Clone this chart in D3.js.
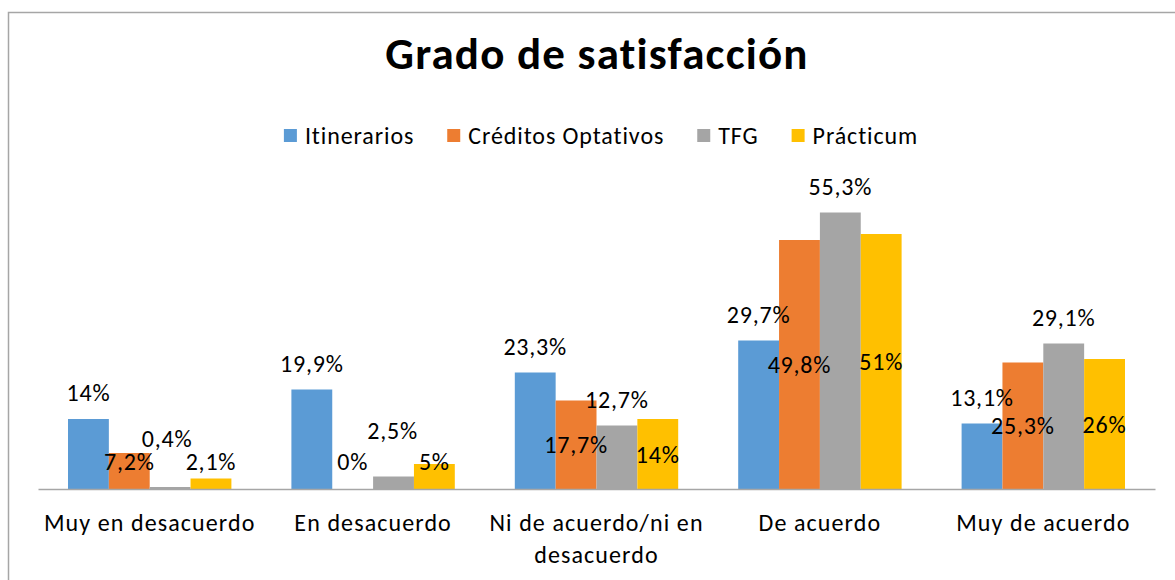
<!DOCTYPE html>
<html>
<head>
<meta charset="utf-8">
<script src="https://cdn.jsdelivr.net/npm/d3@7"></script>
<style>
  body { margin: 0; background: #fff; }
  text { font-family: Carlito, Calibri, Lato, sans-serif; fill: #000; }
</style>
</head>
<body>
<div id="root"></div>
<script>
// Data ////////////////////////////////////////////////////////////////
const title = 'Grado de satisfacción';
const categories = [
  'Muy en desacuerdo',
  'En desacuerdo',
  'Ni de acuerdo/ni en desacuerdo',
  'De acuerdo',
  'Muy de acuerdo',
];
const series = ['Itinerarios', 'Créditos Optativos', 'TFG', 'Prácticum'];
const itinerarios = [14, 19.9, 23.3, 29.7, 13.1];
const creditosOptativos = [7.2, 0, 17.7, 49.8, 25.3];
const tfg = [0.4, 2.5, 12.7, 55.3, 29.1];
const practicum = [2.1, 5, 14, 51, 26];
const values = [itinerarios, creditosOptativos, tfg, practicum];
const colors = ['#5B9BD5', '#ED7D31', '#A5A5A5', '#FFC000'];

// labels: blue/gray sit above the bar, orange/yellow in the middle
const labelMode = ['end', 'center', 'end', 'center'];
// labels that were dragged by hand in the original
const labelNudge = {
  'TFG|Muy en desacuerdo': [-3, -22],
  'TFG|En desacuerdo': [-1, -20],
};

const fmt = (v) => String(v).replace('.', ',') + '%';

// Chart ///////////////////////////////////////////////////////////////
const width = 1175;
const height = 580;
const margin = { top: 189, right: 20, bottom: 91, left: 38 };

const svg = d3
  .select('#root')
  .append('svg')
  .attr('width', width)
  .attr('height', height);

// chart border
svg
  .append('rect')
  .attr('x', 8.5)
  .attr('y', 12.5)
  .attr('width', 1300)
  .attr('height', 700)
  .attr('fill', '#fff')
  .attr('stroke', '#a6a6a6')
  .attr('stroke-width', 1.5);

svg
  .append('text')
  .attr('x', 597)
  .attr('y', 69)
  .attr('text-anchor', 'middle')
  .style('font-size', '45px')
  .style('letter-spacing', '1.2px')
  .style('font-weight', 'bold')
  .text(title);

// Legend
const legend = svg.append('g').attr('id', 'legend');
let lx = 0;
series.forEach((name, i) => {
  const item = legend.append('g').attr('transform', `translate(${lx},0)`);
  item
    .append('rect')
    .attr('x', 0)
    .attr('y', 129)
    .attr('width', 13)
    .attr('height', 13)
    .attr('fill', colors[i]);
  const t = item
    .append('text')
    .attr('x', 21)
    .attr('y', 144)
    .style('font-size', '24px')
    .style('letter-spacing', '0.9px')
    .text(name);
  lx += 21 + t.node().getComputedTextLength() + 33;
});
const legendWidth = lx - 33;
legend.attr('transform', `translate(${601 - legendWidth / 2},0)`);

// Scales
const plotBottom = height - margin.bottom;
const x0 = d3
  .scaleBand()
  .domain(categories)
  .range([margin.left, width - margin.right]);
const x1 = d3
  .scaleBand()
  .domain(series)
  .range([30, x0.step() - 30]);
const y = d3.scaleLinear().domain([0, 60]).range([plotBottom, margin.top]);

// Bars
const groups = svg
  .append('g')
  .attr('id', 'bars')
  .selectAll('g')
  .data(categories)
  .join('g')
  .attr('transform', (d) => `translate(${x0(d)},0)`);

groups
  .selectAll('rect')
  .data((c, ci) => series.map((s, si) => ({ c, s, si, v: values[si][ci] })))
  .join('rect')
  .attr('x', (d) => x1(d.s))
  .attr('y', (d) => y(d.v))
  .attr('width', x1.bandwidth())
  .attr('height', (d) => plotBottom - y(d.v))
  .attr('fill', (d) => colors[d.si]);

// X axis
const xAxis = d3.axisBottom(x0).tickSize(0).tickSizeOuter(0);
const xAxisGroup = svg
  .append('g')
  .attr('id', 'x-axis')
  .attr('transform', `translate(0,${plotBottom})`)
  .call(xAxis);
xAxisGroup.select('.domain').attr('stroke', '#a6a6a6').attr('stroke-width', 1.5);
xAxisGroup
  .selectAll('.tick text')
  .attr('y', 42)
  .attr('dy', null)
  .style('font-size', '24px')
  .style('letter-spacing', '1.1px')
  .style('font-family', 'Carlito, Calibri, Lato, sans-serif')
  .call(wrap, x0.step() - 4);

function wrap(texts, w) {
  texts.each(function () {
    const text = d3.select(this);
    const words = text.text().split(/\s+/);
    const yy = text.attr('y');
    text.text(null);
    let line = [];
    let lineNo = 0;
    let tspan = text.append('tspan').attr('x', 0).attr('y', yy);
    words.forEach((word) => {
      line.push(word);
      tspan.text(line.join(' '));
      if (tspan.node().getComputedTextLength() > w && line.length > 1) {
        line.pop();
        tspan.text(line.join(' '));
        line = [word];
        lineNo++;
        tspan = text
          .append('tspan')
          .attr('x', 0)
          .attr('y', +yy + lineNo * 32)
          .text(word);
      }
    });
  });
}

// Data labels
groups
  .selectAll('text.label')
  .data((c, ci) => series.map((s, si) => ({ c, s, si, v: values[si][ci] })))
  .join('text')
  .attr('class', 'label')
  .attr('text-anchor', 'middle')
  .style('font-size', '24px')
  .style('letter-spacing', '0.8px')
  .attr('x', (d) => {
    const n = labelNudge[d.s + '|' + d.c];
    return x1(d.s) + x1.bandwidth() / 2 + (n ? n[0] : 0);
  })
  .attr('y', (d) => {
    const n = labelNudge[d.s + '|' + d.c];
    let yy;
    if (labelMode[d.si] === 'end') {
      yy = y(d.v) - 18;
    } else {
      yy = Math.min((y(d.v) + plotBottom) / 2 + 8.5, plotBottom - 19);
    }
    return yy + (n ? n[1] : 0);
  })
  .text((d) => fmt(d.v));
</script>
</body>
</html>
